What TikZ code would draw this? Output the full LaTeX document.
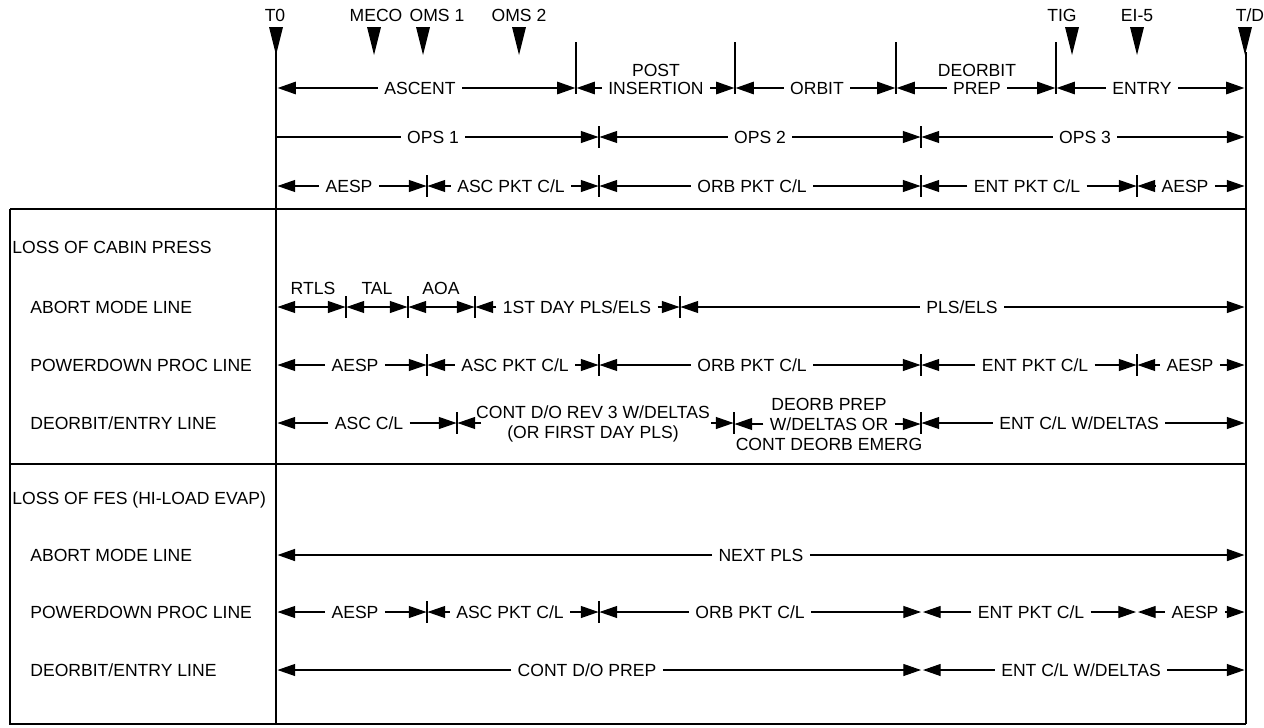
\documentclass[tikz,border=0pt]{standalone}
\usepackage{fontspec}
\setmainfont{Liberation Sans}
\usetikzlibrary{arrows.meta}
\newcommand\myseg[7]{%
  \node[lb] (#1) at (#5,#6) {#7};
  \draw[#2] (#1.west) -- (#3,#6);
  \draw[#2] (#1.east) -- (#4,#6);}
\newcommand\mytick[2]{\draw[tk] ({#1},{#2-11}) -- ({#1},{#2+11});}
\newcommand\mymark[3]{%
  \fill ({#2-7},27) -- ({#2+7},27) -- (#2,55) -- cycle;
  \node[lb0] (#1) at (#3,15) {#1};}
\begin{document}
\begin{tikzpicture}[x=0.02cm,y=-0.02cm,
  every node/.style={font=\fontsize{10pt}{12pt}\selectfont, inner sep=0pt},
  lb0/.style={text height=7.2pt, text depth=0pt, inner sep=0pt},
  lb/.style={text height=7.2pt, text depth=0pt, inner xsep=3.5pt, inner ysep=0pt},
  ar/.style={line width=0.6pt, -{Triangle[length=10pt,width=6.8pt]}},
  arL/.style={line width=1.3pt, -{Triangle[length=10.5pt,width=7pt]}},
  arM/.style={line width=1.0pt, -{Triangle[length=10pt,width=6.8pt]}},
  dbl/.style={line width=0.6pt, {Triangle[length=10pt,width=6.8pt]}-{Triangle[length=10pt,width=6.8pt]}},
  tk/.style={line width=0.6pt},
  frame/.style={line width=1.2pt}
]
\useasboundingbox (0,0) rectangle (1264,727);

% ---------- frame ----------
\coordinate (t0top) at (276,52);
\coordinate (tdtop) at (1246,52);
\coordinate (t0bot) at (276,724);
\coordinate (tdbot) at (1246,724);
\coordinate (ltop) at (10,209);
\coordinate (lmid) at (10,464);
\coordinate (lbot) at (10,724);
\draw[frame] (t0top) -- (t0bot);
\draw[frame] (tdtop) -- (tdbot);
\draw[frame] (ltop) -- (lbot) -- (tdbot);
\draw[frame] (ltop) -- (ltop -| tdbot);
\draw[frame] (lmid) -- (lmid -| tdbot);

% ---------- event markers ----------
\mymark{T0}{276}{275}
\mymark{MECO}{374}{376}
\mymark{OMS 1}{423}{437}
\mymark{OMS 2}{519}{519}
\mymark{TIG}{1072}{1062}
\mymark{EI-5}{1137}{1137}
\mymark{T/D}{1245}{1250}

% ---------- phase row ----------
\foreach \x in {576,735,896,1056} \draw[tk] (\x,42) -- (\x,94);
\myseg{asc}{arL}{277.5}{575.5}{420}{88}{ASCENT}
\node[lb0] (post) at (656,70) {POST};
\myseg{ins}{arL}{576.5}{734.5}{656}{88}{INSERTION}
\myseg{orb}{arL}{735.5}{895.5}{817}{88}{ORBIT}
\node[lb0] (deo) at (977,70) {DEORBIT};
\myseg{prep}{arL}{896.5}{1055.5}{977}{88}{PREP}
\myseg{ent}{arL}{1056.5}{1244.5}{1142}{88}{ENTRY}

% ---------- OPS row ----------
\mytick{599}{137}\mytick{921}{137}
\node[lb] (ops1) at (433,137) {OPS 1};
\draw[tk] (ops1.west) -- (277,137);
\draw[ar] (ops1.east) -- (598.5,137);
\myseg{ops2}{ar}{599.5}{920.5}{760}{137}{OPS 2}
\myseg{ops3}{ar}{921.5}{1244.5}{1085}{137}{OPS 3}

% ---------- checklist row ----------
\foreach \x in {427,599,921,1137} {\mytick{\x}{186}}
\myseg{ca}{ar}{277.5}{426.5}{349}{186}{AESP}
\myseg{cb}{ar}{427.5}{598.5}{511}{186}{ASC PKT C/L}
\myseg{cc}{ar}{599.5}{920.5}{752}{186}{ORB PKT C/L}
\myseg{cd}{ar}{921.5}{1136.5}{1027}{186}{ENT PKT C/L}
\myseg{ce}{ar}{1137.5}{1244.5}{1185}{186}{AESP}

% ---------- LOSS OF CABIN PRESS ----------
\node[lb0, anchor=west] (sec1) at (12,247) {LOSS OF CABIN PRESS};
\node[lb0, anchor=west] (s1a) at (30,307) {ABORT MODE LINE};
\node[lb0, anchor=west] (s1b) at (30,365) {POWERDOWN PROC LINE};
\node[lb0, anchor=west] (s1c) at (30,423) {DEORBIT/ENTRY LINE};

% abort mode line
\foreach \x in {346,408,475,680} {\mytick{\x}{307}}
\node[lb0] (rtls) at (313,288) {RTLS};
\node[lb0] (tal) at (377,288) {TAL};
\node[lb0] (aoa) at (441,288) {AOA};
\coordinate (r0) at (277.5,307);
\coordinate (r1) at (345.5,307);
\coordinate (r2) at (346.5,307);
\coordinate (r3) at (407.5,307);
\coordinate (r4) at (408.5,307);
\coordinate (r5) at (474.5,307);
\draw[dbl] (r0) -- (r1);
\draw[dbl] (r2) -- (r3);
\draw[dbl] (r4) -- (r5);
\myseg{a1d}{ar}{475.5}{679.5}{577}{307}{1ST DAY PLS/ELS}
\myseg{a1e}{ar}{680.5}{1244.5}{962}{307}{PLS/ELS}

% powerdown proc line
\foreach \x in {427,599,921,1137} {\mytick{\x}{365}}
\myseg{p1a}{ar}{277.5}{426.5}{355}{365}{AESP}
\myseg{p1b}{ar}{427.5}{598.5}{515}{365}{ASC PKT C/L}
\myseg{p1c}{ar}{599.5}{920.5}{752}{365}{ORB PKT C/L}
\myseg{p1d}{ar}{921.5}{1136.5}{1035}{365}{ENT PKT C/L}
\myseg{p1e}{ar}{1137.5}{1244.5}{1190}{365}{AESP}

% deorbit/entry line
\foreach \x in {457,734,921} {\mytick{\x}{423}}
\myseg{d1a}{ar}{277.5}{456.5}{369}{423}{ASC C/L}
\node[lb0] (d1b1) at (593,412) {CONT D/O REV 3 W/DELTAS};
\node[lb0] (d1b2) at (593,432) {(OR FIRST DAY PLS)};
\coordinate (d1bl) at (481,423);
\coordinate (d1br) at (711,423);
\draw[ar] (d1bl) -- (457.5,423);
\draw[ar] (d1br) -- (733.5,423);
\node[lb0] (d1c1) at (829,404) {DEORB PREP};
\myseg{d1c2}{ar}{734.5}{920.5}{829}{424}{W/DELTAS OR}
\node[lb0] (d1c3) at (829,444) {CONT DEORB EMERG};
\myseg{d1d}{ar}{921.5}{1244.5}{1079}{423}{ENT C/L W/DELTAS}

% ---------- LOSS OF FES ----------
\node[lb0, anchor=west] (sec2) at (12,498) {LOSS OF FES (HI-LOAD EVAP)};
\node[lb0, anchor=west] (s2a) at (30,555) {ABORT MODE LINE};
\node[lb0, anchor=west] (s2b) at (30,612) {POWERDOWN PROC LINE};
\node[lb0, anchor=west] (s2c) at (30,670) {DEORBIT/ENTRY LINE};

\myseg{a2}{arM}{277.5}{1244.5}{761}{555}{NEXT PLS}

\mytick{427}{612}\mytick{599}{612}
\myseg{p2a}{ar}{277.5}{426.5}{355}{612}{AESP}
\myseg{p2b}{ar}{427.5}{598.5}{510}{612}{ASC PKT C/L}
\myseg{p2c}{ar}{599.5}{921}{750}{612}{ORB PKT C/L}
\myseg{p2d}{ar}{923}{1136}{1031}{612}{ENT PKT C/L}
\myseg{p2e}{ar}{1138}{1244.5}{1195}{612}{AESP}

\myseg{d2a}{ar}{277.5}{921}{587}{670}{CONT D/O PREP}
\myseg{d2b}{ar}{923}{1244.5}{1081}{670}{ENT C/L W/DELTAS}
\end{tikzpicture}
\end{document}
